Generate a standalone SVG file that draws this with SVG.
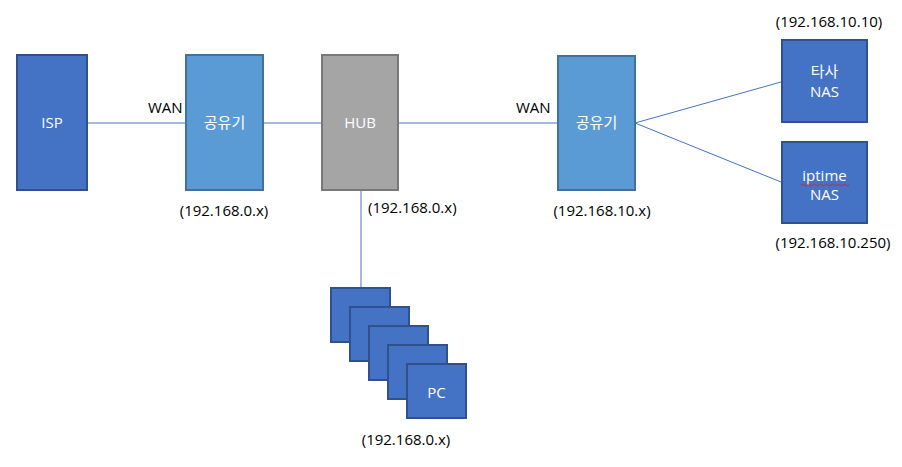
<svg xmlns="http://www.w3.org/2000/svg" width="902" height="467" viewBox="0 0 902 467">
<style>
.dark{fill:#4472c4;stroke:#2f528f;stroke-width:2}
.light{fill:#5b9bd5;stroke:#41719c;stroke-width:2}
.gray{fill:#a5a5a5;stroke:#787878;stroke-width:2}
.w{fill:#ffffff;font-family:"Open Sans","Noto Sans CJK KR",sans-serif;font-size:15px;text-anchor:middle}
.k{fill:#000000;font-family:"Open Sans","Noto Sans CJK KR",sans-serif;font-size:15px}
.c{stroke:#4472c4;stroke-width:1;fill:none}
</style>
<rect width="902" height="467" fill="#ffffff"/>
<g id="connectors">
<line class="c" x1="87" y1="123" x2="186" y2="123"/>
<line class="c" x1="263" y1="123" x2="322" y2="123"/>
<line class="c" x1="398" y1="123" x2="558" y2="123"/>
<line class="c" x1="361" y1="190" x2="361" y2="288"/>
<line class="c" x1="635" y1="123" x2="781" y2="82"/>
<line class="c" x1="635" y1="123" x2="781" y2="182"/>
</g>
<g id="isp">
<rect class="dark" x="17" y="55" width="70" height="135"/>
<text class="w" x="52" y="128">ISP</text>
</g>
<g id="router1">
<rect class="light" x="186" y="55" width="77" height="135"/>
<text class="w" x="224.5" y="128">공유기</text>
<text class="k" x="148" y="113">WAN</text>
<text class="k" x="224" y="216" text-anchor="middle">(192.168.0.x)</text>
</g>
<g id="hub">
<rect class="gray" x="322" y="55" width="76" height="135"/>
<text class="w" x="360" y="128">HUB</text>
<text class="k" x="368" y="213">(192.168.0.x)</text>
</g>
<g id="router2">
<rect class="light" x="558" y="56" width="77" height="134"/>
<text class="w" x="596.5" y="128">공유기</text>
<text class="k" x="516" y="113">WAN</text>
<text class="k" x="602" y="216" text-anchor="middle">(192.168.10.x)</text>
</g>
<g id="nas1">
<rect class="dark" x="782" y="40" width="85" height="82"/>
<text class="w" x="824.5" y="77">타사</text>
<text class="w" x="824.5" y="97">NAS</text>
<text class="k" x="829" y="27" text-anchor="middle">(192.168.10.10)</text>
</g>
<g id="nas2">
<rect class="dark" x="782" y="142" width="85" height="81"/>
<text class="w" x="824.5" y="181">iptime</text>
<path d="M801 185 q1.5 -1.5 3 0 t3 0 t3 0 t3 0 t3 0 t3 0 t3 0 t3 0 t3 0 t3 0 t3 0 t3 0 t3 0 t3 0 t3 0 t3 0" fill="none" stroke="#d02020" stroke-width="0.8"/>
<text class="w" x="824.5" y="200">NAS</text>
<text class="k" x="833" y="248" text-anchor="middle">(192.168.10.250)</text>
</g>
<g id="pc">
<rect class="dark" x="331" y="288" width="59" height="54"/>
<rect class="dark" x="350" y="307" width="59" height="54"/>
<rect class="dark" x="369" y="326" width="59" height="54"/>
<rect class="dark" x="388" y="345" width="59" height="54"/>
<rect class="dark" x="407" y="364" width="59" height="54"/>
<text class="w" x="436.5" y="398">PC</text>
<text class="k" x="406" y="445" text-anchor="middle">(192.168.0.x)</text>
</g>
</svg>
